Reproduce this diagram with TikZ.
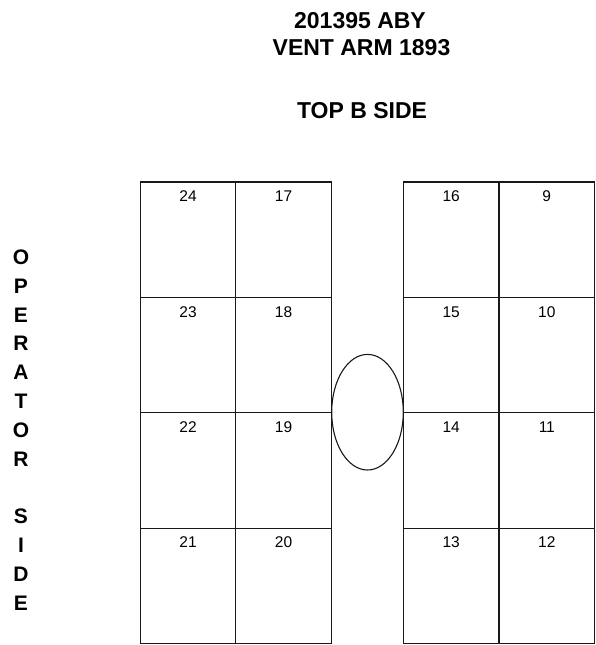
\documentclass[tikz,border=0pt]{standalone}
\usepackage{fontspec}
\setmainfont{Liberation Sans}
\begin{document}
\begin{tikzpicture}[x=1pt,y=-1pt,
  cell/.style={draw=black!90, line width=1.1pt, rectangle, inner sep=0pt, minimum width=95.6pt, minimum height=115.4pt},
  num/.style={font=\fontsize{15.5}{18}\selectfont, inner sep=0pt, anchor=base, yshift=-20.2pt},
  ttl/.style={font=\fontsize{23}{27}\selectfont\bfseries, inner sep=0pt},
  side/.style={font=\fontsize{21}{28.8}\selectfont\bfseries, align=center, inner sep=0pt}]
\useasboundingbox (0,0) rectangle (596,645);
% titles
\node[ttl] (t1) at (360,21) {201395 ABY};
\node[ttl] (t2) at (361.5,48) {VENT ARM 1893};
\node[ttl] (t3) at (362,111) {TOP B SIDE};
% side label
\node[side] (op) at (21,430) {O\\P\\E\\R\\A\\T\\O\\R\\~\\S\\I\\D\\E};
% cells
\foreach \r/\yc in {1/239.7, 2/355.1, 3/470.5, 4/585.9} {
  \node[cell] (a\r) at (188,\yc) {};
  \node[cell] (b\r) at (283.6,\yc) {};
  \node[cell] (c\r) at (451.2,\yc) {};
  \node[cell] (d\r) at (546.8,\yc) {};
}
% numbers
\foreach \r/\na/\nb/\nc/\nd in {1/24/17/16/9, 2/23/18/15/10, 3/22/19/14/11, 4/21/20/13/12} {
  \node[num] (la\r) at (a\r.north) {\na};
  \node[num] (lb\r) at (b\r.north) {\nb};
  \node[num] (lc\r) at (c\r.north) {\nc};
  \node[num] (ld\r) at (d\r.north) {\nd};
}
% ellipse
\draw[draw=black!90, line width=1.1pt] (367.5,412.2) ellipse [x radius=35.8, y radius=57.8];
\end{tikzpicture}
\end{document}
